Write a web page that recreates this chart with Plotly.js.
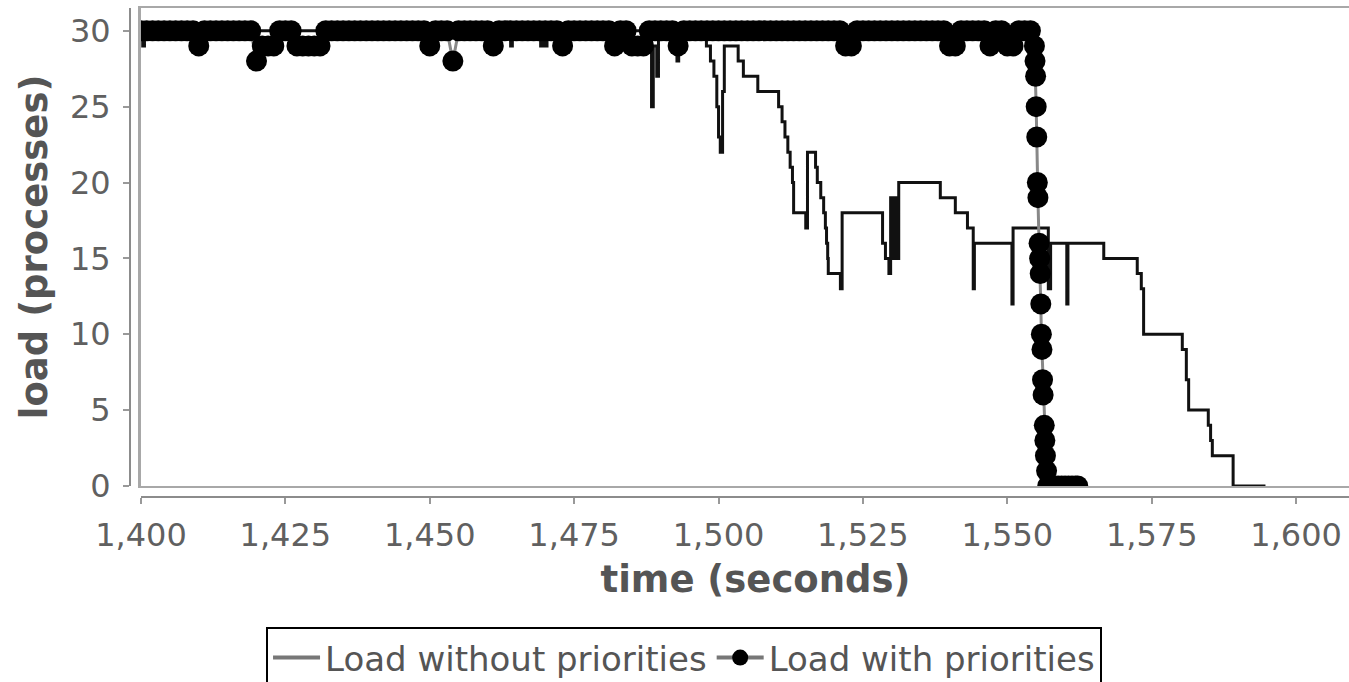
<!DOCTYPE html>
<html>
<head>
<meta charset="utf-8">
<script src="https://cdn.plot.ly/plotly-3.0.1.min.js"></script>
<style>
  html, body { margin: 0; padding: 0; background: #fff; overflow: hidden; }
  #chart { width: 1370px; height: 682px; }
</style>
</head>
<body>
<div id="chart"></div>
<script>
// ---- data ----
const seriesNames = ["Load without priorities", "Load with priorities"];

// Load without priorities (step line)
const timeNoPrio = [1400, 1400.3, 1400.6, 1464.0, 1464.3, 1469.2, 1469.5, 1470.0, 1470.3,
  1488.4, 1488.7, 1489.3, 1489.6, 1492.8, 1493.1, 1497.9, 1498.6, 1499.2, 1499.7, 1500.0,
  1500.3, 1500.7, 1501.0, 1503.4, 1504.3, 1506.8, 1510.4, 1511.0, 1511.5, 1512.0, 1512.4,
  1512.8, 1513.0, 1515.1, 1515.4, 1516.8, 1517.1, 1517.7, 1518.2, 1518.5, 1518.7, 1518.9,
  1519.0, 1521.1, 1521.4, 1528.4, 1528.9, 1529.5, 1529.8, 1530.2, 1530.7, 1531.0, 1531.2,
  1538.4, 1541.0, 1543.1, 1544.1, 1544.3, 1550.8, 1551.0, 1557.1, 1557.5, 1560.3, 1560.5,
  1566.7, 1572.5, 1573.2, 1573.6, 1580.3, 1581.0, 1581.4, 1584.8, 1585.2, 1585.5, 1589.1, 1594.7];
const loadNoPrio = [30, 29, 30, 29, 30, 29, 30, 29, 30,
  25, 29, 27, 30, 28, 30, 29, 28, 27, 25, 23,
  22, 26, 29, 28, 27, 26, 25, 24, 23, 22, 21,
  20, 18, 17, 22, 21, 20, 19, 18, 17, 16, 15,
  14, 13, 18, 16, 15, 14, 19, 15, 19, 15, 20,
  19, 18, 17, 13, 16, 12, 17, 13, 16, 12, 16,
  15, 14, 13, 10, 9, 7, 5, 4, 3, 2, 0, 0];

// Load with priorities (line + markers), one sample per second, then the drop
const timePrio = [
  1400, 1401, 1402, 1403, 1404, 1405, 1406, 1407, 1408, 1409,
  1410, 1411, 1412, 1413, 1414, 1415, 1416, 1417, 1418, 1419,
  1420, 1421, 1422, 1423, 1424, 1425, 1426, 1427, 1428, 1429,
  1430, 1431, 1432, 1433, 1434, 1435, 1436, 1437, 1438, 1439,
  1440, 1441, 1442, 1443, 1444, 1445, 1446, 1447, 1448, 1449,
  1450, 1451, 1452, 1453, 1454, 1455, 1456, 1457, 1458, 1459,
  1460, 1461, 1462, 1463, 1464, 1465, 1466, 1467, 1468, 1469,
  1470, 1471, 1472, 1473, 1474, 1475, 1476, 1477, 1478, 1479,
  1480, 1481, 1482, 1483, 1484, 1485, 1486, 1487, 1488, 1489,
  1490, 1491, 1492, 1493, 1494, 1495, 1496, 1497, 1498, 1499,
  1500, 1501, 1502, 1503, 1504, 1505, 1506, 1507, 1508, 1509,
  1510, 1511, 1512, 1513, 1514, 1515, 1516, 1517, 1518, 1519,
  1520, 1521, 1522, 1523, 1524, 1525, 1526, 1527, 1528, 1529,
  1530, 1531, 1532, 1533, 1534, 1535, 1536, 1537, 1538, 1539,
  1540, 1541, 1542, 1543, 1544, 1545, 1546, 1547, 1548, 1549,
  1550, 1551, 1552, 1553, 1554,
  1554.7, 1554.8, 1554.9, 1555.0, 1555.1, 1555.2, 1555.3, 1555.5, 1555.6, 1555.7,
  1555.8, 1555.9, 1556.0, 1556.1, 1556.2, 1556.4, 1556.5, 1556.6, 1556.8, 1557.0,
  1557.6, 1558.2, 1558.8, 1559.4, 1560.0, 1560.6, 1561.2, 1561.8, 1562.2];
const loadPrio = [
  30, 30, 30, 30, 30, 30, 30, 30, 30, 30,
  29, 30, 30, 30, 30, 30, 30, 30, 30, 30,
  28, 29, 29, 29, 30, 30, 30, 29, 29, 29,
  29, 29, 30, 30, 30, 30, 30, 30, 30, 30,
  30, 30, 30, 30, 30, 30, 30, 30, 30, 30,
  29, 30, 30, 30, 28, 30, 30, 30, 30, 30,
  30, 29, 30, 30, 30, 30, 30, 30, 30, 30,
  30, 30, 30, 29, 30, 30, 30, 30, 30, 30,
  30, 30, 29, 30, 30, 29, 29, 29, 30, 30,
  30, 30, 30, 29, 30, 30, 30, 30, 30, 30,
  30, 30, 30, 30, 30, 30, 30, 30, 30, 30,
  30, 30, 30, 30, 30, 30, 30, 30, 30, 30,
  30, 30, 29, 29, 30, 30, 30, 30, 30, 30,
  30, 30, 30, 30, 30, 30, 30, 30, 30, 30,
  29, 29, 30, 30, 30, 30, 30, 29, 30, 30,
  29, 29, 30, 30, 30,
  29, 28, 27, 25, 23, 20, 19, 16, 15, 14,
  12, 10, 9, 7, 6, 4, 3, 2, 1, 0,
  0, 0, 0, 0, 0, 0, 0, 0, 0];

// axis ticks
const xTickVals = [1400, 1425, 1450, 1475, 1500, 1525, 1550, 1575, 1600];
const xTickText = ["1,400", "1,425", "1,450", "1,475", "1,500", "1,525", "1,550", "1,575", "1,600"];
const yTickVals = [0, 5, 10, 15, 20, 25, 30];
const xRange = [1400, 1612.8];
const yRange = [0, 31.5];

// ---- chart ----
const FONT = "DejaVu Sans, Verdana, sans-serif";

const traces = [
  {
    x: timeNoPrio, y: loadNoPrio, type: "scatter", mode: "lines",
    line: { shape: "hv", color: "#111111", width: 3 },
    name: seriesNames[0], showlegend: false, xaxis: "x", yaxis: "y"
  },
  {
    x: timePrio, y: loadPrio, type: "scatter", mode: "lines+markers",
    line: { color: "#888888", width: 3 },
    marker: { color: "#000000", size: 21, symbol: "circle" },
    name: seriesNames[1], showlegend: false, xaxis: "x", yaxis: "y"
  },
  // legend entries
  {
    x: [null], y: [null], type: "scatter", mode: "lines",
    line: { color: "#777777", width: 4 }, name: seriesNames[0],
    xaxis: "x", yaxis: "y", hoverinfo: "skip"
  },
  {
    x: [null], y: [null], type: "scatter", mode: "lines+markers",
    line: { color: "#777777", width: 4 }, marker: { color: "#000000", size: 16 },
    name: seriesNames[1], xaxis: "x", yaxis: "y", hoverinfo: "skip"
  },
  // anchor for the offset axes
  {
    x: [null], y: [null], type: "scatter", mode: "markers",
    xaxis: "x2", yaxis: "y2", showlegend: false, hoverinfo: "skip"
  }
];

const frame = {
  showline: true, mirror: true, linecolor: "#a8a8a8", linewidth: 2.5,
  showgrid: false, zeroline: false, showticklabels: false, ticks: ""
};

const layout = {
  width: 1370, height: 682,
  margin: { l: 130, r: 0, t: 8, b: 185, autoexpand: false },
  paper_bgcolor: "#ffffff", plot_bgcolor: "#ffffff",
  showlegend: true,
  font: { family: FONT, color: "#555555" },
  xaxis: Object.assign({ domain: [0.00887, 1], range: xRange, fixedrange: true }, frame),
  yaxis: Object.assign({ domain: [0.0225, 1], range: yRange, fixedrange: true }, frame),
  xaxis2: {
    overlaying: "x", anchor: "free", position: 0, range: xRange,
    tickmode: "array", tickvals: xTickVals, ticktext: xTickText,
    ticks: "outside", ticklen: 6, tickwidth: 2, tickcolor: "#999999",
    showline: true, linecolor: "#8c8c8c", linewidth: 2,
    showgrid: false, zeroline: false, automargin: false,
    ticklabelstandoff: 4,
    tickfont: { family: FONT, size: 32, color: "#606060" },
    title: { text: "time (seconds)", standoff: 12,
      font: { family: FONT, size: 37, color: "#555555", weight: "bold" } }
  },
  yaxis2: {
    overlaying: "y", anchor: "free", position: 0, range: yRange,
    tickmode: "array", tickvals: yTickVals,
    ticks: "outside", ticklen: 6, tickwidth: 2, tickcolor: "#999999",
    showline: true, linecolor: "#8c8c8c", linewidth: 2,
    showgrid: false, zeroline: false, automargin: false,
    ticklabelstandoff: 6,
    tickfont: { family: FONT, size: 32, color: "#606060" },
    title: { text: "load (processes)", standoff: 10,
      font: { family: FONT, size: 37, color: "#555555", weight: "bold" } }
  },
  legend: {
    orientation: "h", x: 0.4468, xanchor: "center", y: -0.2658, yanchor: "top",
    bordercolor: "#000000", borderwidth: 2, bgcolor: "#ffffff",
    font: { family: FONT, size: 34, color: "#555555" },
    itemwidth: 47, traceorder: "normal"
  }
};

Plotly.newPlot("chart", traces, layout, { displayModeBar: false, staticPlot: true });
</script>
</body>
</html>
